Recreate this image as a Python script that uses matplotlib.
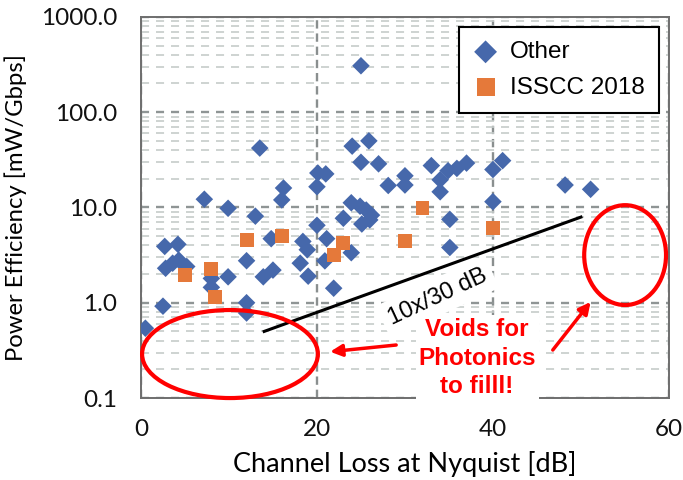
import matplotlib
matplotlib.use("Agg")
import matplotlib.pyplot as plt
from matplotlib.patches import Ellipse
from matplotlib.ticker import FixedLocator, LogLocator, FuncFormatter, NullFormatter
import numpy as np

plt.rcParams['lines.scale_dashes'] = False

# ---- data ----
other_loss = [0.5, 2.5, 2.7, 4.2, 2.8, 3.6, 4.3, 5.2, 7.2, 8.0, 8.0, 9.9, 9.9, 12.0, 12.0, 12.0,
              13.0, 13.5, 13.9, 15.0, 14.8, 16.2, 16.0, 18.1, 18.4, 18.9, 19.0, 20.0, 20.1, 21.0,
              20.0, 21.1, 20.9, 21.9, 23.0, 23.9, 24.0, 25.0, 25.9, 25.0, 27.0, 28.1, 30.0, 30.0,
              33.0, 34.0, 34.0, 34.9, 35.9, 37.0, 40.0, 41.1, 40.0, 48.2, 51.1, 35.1, 35.1,
              23.9, 24.9, 25.6, 26.2, 26.0, 25.1]
other_eff = [0.54, 0.92, 3.9, 4.1, 2.3, 2.6, 2.8, 2.4, 12.2, 1.8, 1.45, 9.8, 1.87, 2.76, 1.0, 0.78,
             8.1, 42, 1.87, 2.2, 4.7, 16.0, 12.0, 2.6, 4.4, 3.6, 1.9, 16.5, 23.0, 22.5,
             6.5, 4.7, 2.75, 1.42, 7.7, 3.35, 44, 307, 50, 29.8, 28.7, 17.0, 21.5, 17.2,
             27.5, 19.5, 14.6, 24.3, 25.7, 29.2, 25.0, 31, 11.5, 17.2, 15.5, 7.5, 3.8,
             11.2, 10.3, 9.4, 8.3, 7.4, 6.7]

isscc_loss = [5.0, 8.0, 8.4, 12.0, 16.0, 21.9, 23.0, 30.0, 32.0, 40.0]
isscc_eff = [1.95, 2.24, 1.14, 4.55, 5.0, 3.2, 4.2, 4.4, 9.9, 6.1]

trend_loss = [14.0, 50.0]
trend_start = 0.5  # value at 14 dB, 10x per 30 dB
trend_eff = [trend_start * 10 ** ((x - trend_loss[0]) / 30.0) for x in trend_loss]

x_ticks = [0, 20, 40, 60]
y_ticks = [0.1, 1.0, 10.0, 100.0, 1000.0]

blue = '#4668AB'
orange = '#E5793A'
red = '#FF0000'

fig = plt.figure(figsize=(6.83, 4.8), dpi=100)
ax = fig.add_axes([0.2064, 0.1708, 0.773, 0.794])

ax.set_yscale('log')
ax.set_xlim(0, 60)
ax.set_ylim(0.1, 1000)
ax.xaxis.set_major_locator(FixedLocator(x_ticks))
ax.yaxis.set_major_locator(FixedLocator(y_ticks))
ax.yaxis.set_minor_locator(LogLocator(base=10, subs=range(2, 10)))
ax.yaxis.set_minor_formatter(NullFormatter())
ax.yaxis.set_major_formatter(FuncFormatter(lambda v, p: f"{v:.1f}"))

ax.grid(which='minor', axis='y', linestyle=(0, (5.8, 5)), color='#C6CCCA', lw=1.2, zorder=0)
ax.grid(which='major', axis='y', linestyle=(0, (5.8, 5)), color='#8F9595', lw=1.7, zorder=0)
ax.grid(which='major', axis='x', linestyle=(0, (6, 3.5)), color='#8A8F8F', lw=1.7, zorder=0)
ax.set_axisbelow(True)

for s in ax.spines.values():
    s.set_color('#6E6E6E')
    s.set_linewidth(1.4)

ax.tick_params(which='both', length=0)
ax.tick_params(axis='y', pad=17, labelsize=17.5, labelcolor='#111111')
ax.tick_params(axis='x', pad=15, labelsize=17.5, labelcolor='#111111')
for lab in ax.get_xticklabels() + ax.get_yticklabels():
    lab.set_family('Lato')

ax.set_xlabel('Channel Loss at Nyquist [dB]', family='Lato', fontsize=19.5, labelpad=8)
ax.set_ylabel('Power Efficiency [mW/Gbps]', family='Lato', fontsize=17.2, labelpad=10)

sc1 = ax.scatter(other_loss, other_eff, marker='D', s=80, color=blue, edgecolors='none',
                 zorder=3, label='Other')
sc2 = ax.scatter(isscc_loss, isscc_eff, marker='s', s=100, color=orange, edgecolors='none',
                 zorder=4, label='ISSCC 2018')

ax.plot(trend_loss, trend_eff, color='black', lw=2.2, zorder=5)
ax.text(33.7, 1.15, '10x/30 dB', rotation=25, rotation_mode='anchor', ha='center', va='center',
        family='Liberation Sans', fontsize=17, zorder=6,
        bbox=dict(facecolor='white', edgecolor='none', pad=5))

ax.text(38.2, 0.263, 'Voids for\nPhotonics\nto filll!', ha='center', va='center', color=red,
        family='Liberation Sans', fontweight='bold', fontsize=17.5, linespacing=1.32, zorder=6,
        bbox=dict(facecolor='white', edgecolor='none', pad=2))

ax.add_patch(Ellipse((0.1686, 0.1154), 0.333, 0.231, transform=ax.transAxes, fill=False,
                     edgecolor=red, lw=3, zorder=7, clip_on=False))
ax.add_patch(Ellipse((0.917, 0.375), 0.155, 0.262, transform=ax.transAxes, fill=False,
                     edgecolor=red, lw=3, zorder=7, clip_on=False))

arrow_kw = dict(arrowstyle='-|>,head_length=0.7,head_width=0.35', color=red, lw=2.5,
                shrinkA=0, shrinkB=0)
ax.annotate('', xy=(21.5, 0.306), xytext=(29.0, 0.36), arrowprops=arrow_kw, zorder=7)
ax.annotate('', xy=(51.1, 1.02), xytext=(46.8, 0.319), arrowprops=arrow_kw, zorder=7)

leg = ax.legend(handles=[sc1, sc2], loc='upper right', prop={'family': 'Liberation Sans', 'size': 17.5},
                frameon=True, fancybox=False, edgecolor='black', framealpha=1, markerscale=1.3,
                borderaxespad=0.4, handlelength=1.0, handletextpad=0.5, borderpad=0.6,
                labelspacing=0.55)
leg.get_frame().set_linewidth(1.5)
leg.set_zorder(8)

fig.savefig('out.png', dpi=100)
